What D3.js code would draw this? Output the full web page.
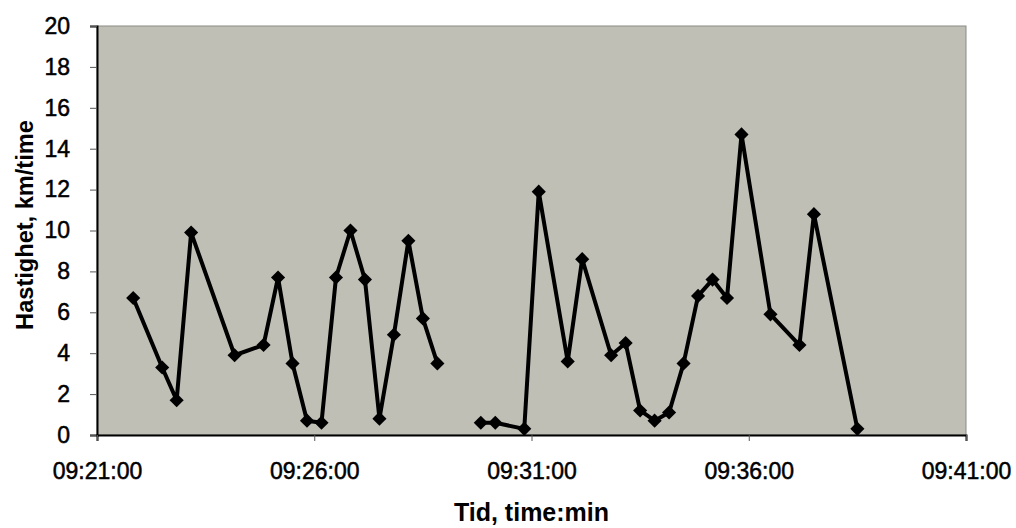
<!DOCTYPE html>
<html>
<head>
<meta charset="utf-8">
<script src="https://cdn.jsdelivr.net/npm/d3@7"></script>
<style>
  html, body { margin: 0; padding: 0; background: #ffffff; }
  svg { display: block; }
  text { font-family: "Liberation Sans", Arial, sans-serif; fill: #000; }
</style>
</head>
<body>
<svg id="chart" width="1016" height="528"></svg>
<script>
// Speed log, one reading roughly every 20 seconds; null marks missing readings.
const times = [
  "09:21:50", "09:22:30", "09:22:50", "09:23:10", "09:24:10", "09:24:50",
  "09:25:10", "09:25:30", "09:25:50", "09:26:10", "09:26:30", "09:26:50",
  "09:27:10", "09:27:30", "09:27:50", "09:28:10", "09:28:30", "09:28:50",
  "09:29:10", "09:29:30",
  "09:29:50", "09:30:10", "09:30:50", "09:31:10", "09:31:50", "09:32:10",
  "09:32:50", "09:33:10", "09:33:30", "09:33:50", "09:34:10", "09:34:30",
  "09:34:50", "09:35:10", "09:35:30", "09:35:50", "09:36:30", "09:37:10",
  "09:37:30", "09:38:30"
];
const speeds = [
  6.7, 3.3, 1.7, 9.9, 3.9, 4.4,
  7.7, 3.5, 0.7, 0.6, 7.7, 10.0,
  7.6, 0.8, 4.9, 9.5, 5.7, 3.5,
  null, null,
  0.6, 0.6, 0.3, 11.9, 3.6, 8.6,
  3.9, 4.5, 1.2, 0.7, 1.1, 3.5,
  6.8, 7.6, 6.7, 14.7, 5.9, 4.4,
  10.8, 0.3
];
const xTickLabels = ["09:21:00", "09:26:00", "09:31:00", "09:36:00", "09:41:00"];
const yTicks = [0, 2, 4, 6, 8, 10, 12, 14, 16, 18, 20];
const xTitle = "Tid, time:min";
const yTitle = "Hastighet, km/time";

const parse = d3.timeParse("%H:%M:%S");
const data = times.map((t, i) => ({ t: parse(t), v: speeds[i] }));
const xTicks = xTickLabels.map(parse);

const svg = d3.select("#chart");
const plotLeft = 97, plotRight = 966, plotTop = 26, plotBottom = 435;

const x = d3.scaleTime()
  .domain([xTicks[0], xTicks[xTicks.length - 1]])
  .range([plotLeft, plotRight]);
const y = d3.scaleLinear().domain([0, 20]).range([plotBottom, plotTop]);

// Plot area
svg.append("rect")
  .attr("x", plotLeft).attr("y", plotTop)
  .attr("width", plotRight - plotLeft).attr("height", plotBottom - plotTop)
  .attr("fill", "#c0bfb5")
  .attr("stroke", "#8a8a86").attr("stroke-width", 1);

// Axes
const yAxis = svg.append("g")
  .attr("transform", `translate(${plotLeft},0)`)
  .call(d3.axisLeft(y).tickValues(yTicks).tickSize(7).tickPadding(20).tickFormat(d3.format("d")));
const xAxis = svg.append("g")
  .attr("transform", `translate(0,${plotBottom})`)
  .call(d3.axisBottom(x).tickValues(xTicks).tickSize(6).tickPadding(22)
    .tickFormat(d3.timeFormat("%H:%M:%S")));

[yAxis, xAxis].forEach(g => {
  g.select(".domain").attr("stroke", "#000").attr("stroke-width", 2);
  g.selectAll(".tick line").attr("stroke", "#555").attr("stroke-width", 1);
  g.selectAll(".tick text")
    .style("font-size", "23px")
    .style("font-family", "'Liberation Sans', Arial, sans-serif")
    .attr("fill", "#000")
    .attr("stroke", "#000")
    .attr("stroke-width", 0.5);
});

// Speed line with gap for missing readings
const line = d3.line()
  .defined(d => d.v !== null)
  .x(d => x(d.t))
  .y(d => y(d.v));

svg.append("path")
  .datum(data)
  .attr("d", line)
  .attr("fill", "none")
  .attr("stroke", "#000")
  .attr("stroke-width", 4)
  .attr("stroke-linejoin", "round");

// Diamond markers
const marker = d3.symbol().type(d3.symbolSquare).size(100);
svg.append("g")
  .selectAll("path")
  .data(data.filter(d => d.v !== null))
  .join("path")
  .attr("d", marker)
  .attr("transform", d => `translate(${x(d.t)},${y(d.v)}) rotate(45)`)
  .attr("fill", "#000");

// Axis titles
svg.append("text")
  .attr("x", (plotLeft + plotRight) / 2).attr("y", 521)
  .attr("text-anchor", "middle")
  .style("font-size", "25px").style("font-weight", "bold")
  .text(xTitle);

svg.append("text")
  .attr("transform", `translate(33,225) rotate(-90)`)
  .attr("text-anchor", "middle")
  .style("font-size", "23.6px").style("font-weight", "bold")
  .text(yTitle);
</script>
</body>
</html>
